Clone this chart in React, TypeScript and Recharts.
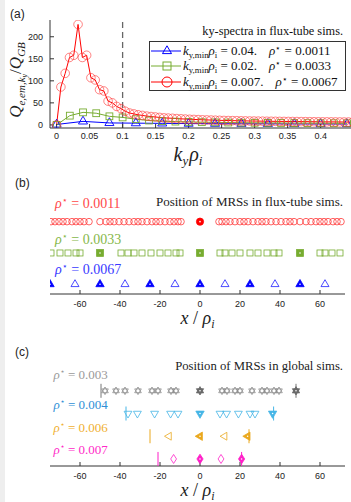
import React from "react";
import { ComposedChart, Line, ScatterChart, Scatter, XAxis, YAxis, ReferenceLine } from "recharts";

const SERIF = '"Liberation Serif", "DejaVu Serif", serif';
const SANS = '"Liberation Sans", Arial, sans-serif';
const AXIS = "#333";

// ---- (a) ky spectra ----
const kyBlue = [0, 0.04, 0.08, 0.12, 0.16, 0.2, 0.24, 0.28, 0.32, 0.36, 0.4, 0.44];
const qBlue = [1, 8, 4.5, 4, 3.5, 3, 2.8, 2.6, 2.4, 2.2, 2.1, 2];

const kyGreen = [0, 0.02, 0.04, 0.06, 0.08, 0.1, 0.12, 0.14, 0.16, 0.18, 0.2, 0.22, 0.24, 0.26, 0.28, 0.3, 0.32, 0.34, 0.36, 0.38, 0.4, 0.42, 0.44];
const qGreen = [0, 21, 28.5, 26.5, 19.5, 17, 13, 10, 8.5, 7.5, 6.8, 6.2, 5.8, 5.4, 5, 4.8, 4.6, 4.4, 4.2, 4, 3.9, 3.8, 3.7];

const kyRed = [
  0, 0.0065, 0.013, 0.0195, 0.026, 0.0325, 0.039, 0.0455, 0.052, 0.0585,
  0.065, 0.0715, 0.078, 0.0845, 0.091, 0.0975, 0.104, 0.1105, 0.117, 0.1235,
  0.13, 0.1365, 0.143, 0.1495, 0.156, 0.1625, 0.169, 0.1755, 0.182, 0.1885,
  0.195, 0.2015, 0.208, 0.2145, 0.221, 0.2275, 0.234, 0.2405, 0.247, 0.2535,
  0.26, 0.2665, 0.273, 0.2795, 0.286, 0.2925, 0.299, 0.3055, 0.312, 0.3185,
  0.325, 0.3315, 0.338, 0.3445, 0.351, 0.3575, 0.364, 0.3705, 0.377, 0.3835,
  0.39, 0.3965, 0.403, 0.4095, 0.416, 0.4225, 0.429, 0.4355, 0.442, 0.4485,
];
const qRed = [
  0, 86, 117, 153, 158, 228, 153, 158, 107, 102,
  80, 77, 54, 50, 42, 37, 31, 27, 25, 23,
  21.5, 20, 19, 18, 17, 16, 15.5, 15, 14.3, 13.8,
  13.3, 12.8, 12.4, 12, 11.6, 11.3, 11, 10.7, 10.4, 10.1,
  9.9, 9.7, 9.5, 9.3, 9.1, 8.9, 8.8, 8.6, 8.5, 8.3,
  8.2, 8.1, 8, 7.9, 7.8, 7.7, 7.6, 7.5, 7.4, 7.3,
  7.2, 7.1, 7, 6.9, 6.9, 6.8, 6.7, 6.6, 6.6, 6.5,
];
const kyTicks = [0, 0.05, 0.1, 0.15, 0.2, 0.25, 0.3, 0.35, 0.4];
const qTicks = [0, 50, 100, 150, 200];
const legendKmin = ["0.04", "0.02", "0.007"];
const legendRho = ["0.0011", "0.0033", "0.0067"];

// ---- (b) MRS positions, flux tube ----
const circleOpen = [
  -74.5, -72.5, -70.5, -68.5, -66.5, -64, -62, -60, -58, -55.5, -50, -47, -45, -43, -40.5, -38, -35.5,
  -33, -31, -29, -26.5, -24, -22, -20, -17.5, -15, -13, -11, -9.5, 9.5, 11, 13, 15, 17.5, 20, 22, 24,
  26.5, 29, 31, 33, 35.5, 38, 40.5, 43, 45, 47, 50, 53, 55.5, 58, 60, 62, 64, 66.5, 68.5, 70.5,
];
const circleFilled = [0];
const squareOpen = [-74.5, -70, -66, -62, -60, -39.5, -36, -33, -29, -24.5, -20, -16, -12, -10, 10, 12.5, 16, 20, 25, 29, 33.5, 37, 39.5, 60, 62.5, 66, 70];
const squareFilled = [-50, 0, 50];
const triOpen = [-62.5, -37.5, -12.5, 12.5, 37.5, 62.5];
const triFilled = [-75, -50, -25, 0, 25, 50];

// ---- (c) MRS positions, global ----
const starOpen = [-47.5, -42, -37.5, -31, -24, -21, -14.5, -12, 11, 13.5, 17.5, 20, 26, 31, 33.5, 37, 39.5];
const starFilled = [0, 48];
const starEdge = [-49.5, 48];
const downOpen = [-36, -31.3, -22.7, -14.7, -11, 10, 13.3, 19.2, 25, 27.5];
const downFilled = [0, 36.3];
const downEdge = [-37, 36.8];
const leftOpen = [-15.5, 12.3];
const leftFilled = [0, 23.8];
const leftEdge = [-25, 24.5];
const diaOpen = [-13.2, 10.5];
const diaFilled = [0, 20.8];
const diaEdge = [-21, 20.8];

const xTicks = [-60, -40, -20, 0, 20, 40, 60];
const xDomain: [number, number] = [-75, 72.5];

const BLUE = "#0000ff";
const GREEN = "#77ac30";
const RED = "#ff0000";
const GRAY = "#8a8a8a";
const SKY = "#45b5e6";
const ORANGE = "#eaa81e";
const MAGENTA = "#ff1fc8";

const at = (xs: number[], y: number) => xs.map((x) => ({ x, y }));
const spec = (xs: number[], ys: number[]) => xs.map((ky, i) => ({ ky, q: ys[i] }));

type MarkProps = { cx?: number; cy?: number; kind: string; color: string; filled?: boolean; r?: number; sw?: number; op?: number };

const Mark = ({ cx = 0, cy = 0, kind, color, filled = false, r = 4, sw = 0.8, op = 1 }: MarkProps) => {
  const fill = filled ? color : "none";
  const common = { fill, stroke: color, strokeWidth: sw, strokeOpacity: op };
  const dot = filled ? <circle cx={cx} cy={cy} r={0.8} fill="#fff" /> : null;
  const poly = (pts: number[][]) => pts.map(([a, b]) => `${cx + a * r},${cy + b * r}`).join(" ");
  let shape: React.ReactNode = null;
  if (kind === "circle") shape = <circle cx={cx} cy={cy} r={r} {...common} />;
  else if (kind === "square") shape = <rect x={cx - r} y={cy - r} width={2 * r} height={2 * r} {...common} />;
  else if (kind === "triUp") shape = <polygon points={poly([[0, -1], [0.87, 0.5], [-0.87, 0.5]])} {...common} />;
  else if (kind === "triDown") shape = <polygon points={poly([[0, 1], [0.87, -0.5], [-0.87, -0.5]])} {...common} />;
  else if (kind === "triLeft") shape = <polygon points={poly([[-1, 0], [0.5, -0.87], [0.5, 0.87]])} {...common} />;
  else if (kind === "diamond") shape = <polygon points={poly([[0, -1], [0.65, 0], [0, 1], [-0.65, 0]])} {...common} />;
  else if (kind === "hexagram")
    shape = (
      <g>
        <polygon points={poly([[0, -1], [0.87, 0.5], [-0.87, 0.5]])} {...common} />
        <polygon points={poly([[0, 1], [0.87, -0.5], [-0.87, -0.5]])} {...common} />
      </g>
    );
  else if (kind === "vline") return <line x1={cx} x2={cx} y1={cy - 7} y2={cy + 7} stroke={color} strokeWidth={1} />;
  return (
    <g>
      {shape}
      {dot}
    </g>
  );
};

const Rho = ({ val }: { val: string }) => (
  <>
    <tspan fontStyle="italic">ρ</tspan>
    <tspan dy={-5} fontSize="0.65em">⋆</tspan>
    <tspan dy={5}> = {val}</tspan>
  </>
);

const TextMark = (props: any) => {
  const { cx, cy, payload } = props;
  if (payload.title)
    return (
      <text x={cx} y={cy} dy="0.35em" textAnchor="end" fontFamily={SERIF} fontSize={payload.size} fill="#222">
        {payload.title}
      </text>
    );
  return (
    <text x={cx} y={cy} dy="0.35em" fontFamily={SERIF} fontSize={payload.size} fill={payload.color}>
      <Rho val={payload.val} />
    </text>
  );
};

const labelsB = [
  { x: -72.5, y: 3.585, val: "0.0011", color: "#ff4a4a", size: 14 },
  { x: -72.5, y: 2.445, val: "0.0033", color: "#86b84a", size: 14 },
  { x: -72.5, y: 1.486, val: "0.0067", color: "#3a3aff", size: 14 },
  { x: 71.5, y: 3.64, title: "Position of MRSs in flux-tube sims.", size: 13 },
];
const labelsC = [
  { x: -73.3, y: 4.707, val: "0.003", color: "#9a9a9a", size: 13 },
  { x: -73.3, y: 3.38, val: "0.004", color: "#2f8fd6", size: 13 },
  { x: -73.3, y: 2.37, val: "0.006", color: "#f0b030", size: 13 },
  { x: -73.3, y: 1.44, val: "0.007", color: "#ff2ac8", size: 13 },
  { x: 71.5, y: 5.09, title: "Position of MRSs in global sims.", size: 12.7 },
];

const XTitle = (props: any) => {
  const vb = props.viewBox || {};
  const x = vb.x + vb.width / 2 + (props.dx || 0);
  return props.k ? (
    <text x={x} y={vb.y + 33} textAnchor="middle" fontFamily={SERIF} fontSize={20} fill="#222">
      <tspan fontStyle="italic">k</tspan>
      <tspan dy={4} fontSize={13} fontStyle="italic">y</tspan>
      <tspan dy={-4} dx={1} fontStyle="italic">ρ</tspan>
      <tspan dy={4} fontSize={13} fontStyle="italic">i</tspan>
    </text>
  ) : (
    <text x={x} y={vb.y + 30} textAnchor="middle" fontFamily={SERIF} fontSize={18} fill="#222">
      <tspan fontStyle="italic">x</tspan>
      <tspan> / </tspan>
      <tspan fontStyle="italic">ρ</tspan>
      <tspan dy={4} fontSize={12} fontStyle="italic">i</tspan>
    </text>
  );
};

const QTitle = () => (
  <text x={21} y={80} transform="rotate(-90, 21, 80)" textAnchor="middle" fontFamily={SERIF} fontSize={17} fill="#222">
    <tspan fontStyle="italic">Q</tspan>
    <tspan dy={4} fontSize={11} fontStyle="italic">e,em,k</tspan>
    <tspan dy={2} fontSize={8} fontStyle="italic">y</tspan>
    <tspan dy={-6}>/</tspan>
    <tspan fontStyle="italic">Q</tspan>
    <tspan dy={4} fontSize={11} fontStyle="italic">GB</tspan>
  </text>
);

const sub: React.CSSProperties = { fontSize: "0.68em", position: "relative", top: "0.32em" };
const sup: React.CSSProperties = { fontSize: "0.68em", position: "relative", top: "-0.45em" };

const specColors = [BLUE, GREEN, RED];
const specKinds = ["triUp", "square", "circle"];
const specR = [5.2, 4, 5];

const SpecLegend = () => (
  <div style={{ position: "absolute", left: 149, top: 23, width: 197, fontFamily: SERIF, color: "#111" }}>
    <div style={{ textAlign: "right", fontSize: 12.3, height: 18, lineHeight: "16px", paddingRight: 3 }}>ky-spectra in flux-tube sims.</div>
    <div style={{ border: "1px solid #333", background: "#fff", height: 47, paddingTop: 1, boxSizing: "content-box" }}>
      {legendKmin.map((k, i) => (
        <div key={k} style={{ display: "flex", alignItems: "center", height: 15.5, fontSize: 13, whiteSpace: "nowrap" }}>
          <svg width={32} height={14} style={{ flex: "none" }}>
            <line x1={1} x2={31} y1={7} y2={7} stroke={specColors[i]} strokeWidth={1} />
            <Mark cx={17} cy={7} kind={specKinds[i]} color={specColors[i]} r={specR[i]} sw={1} />
          </svg>
          <span style={{ marginLeft: 1 }}>
            <i>k</i>
            <span style={sub}>y,min</span>
            <i>ρ</i>
            <span style={sub}>i</span> = {k}.
          </span>
          <span style={{ marginLeft: 12 }}>
            <i>ρ</i>
            <span style={sup}>⋆</span> = {legendRho[i]}
          </span>
        </div>
      ))}
    </div>
  </div>
);

const tickStyle = { fontSize: 9, fontFamily: SANS, fill: "#222" };

const PanelLetter = ({ text, left, top }: { text: string; left: number; top: number }) => (
  <div style={{ position: "absolute", left, top, fontFamily: SANS, fontSize: 12, color: "#222", lineHeight: "14px" }}>{text}</div>
);

const App = () => {
  const redPts = spec(kyRed, qRed);
  const greenPts = spec(kyGreen, qGreen);
  const bluePts = spec(kyBlue, qBlue);
  const yDomA: [number, number] = [-7, 238];
  const xDomA: [number, number] = [-0.01, 0.4475];
  const yDomB: [number, number] = [0.69, 4.17];
  const yDomC: [number, number] = [0.69, 5.4];

  const scatterRow = (key: string, xs: number[], y: number, kind: string, color: string, filled: boolean, r: number) => (
    <Scatter
      key={key}
      data={at(xs, y)}
      isAnimationActive={false}
      shape={(p: any) => <Mark cx={p.cx} cy={p.cy} kind={kind} color={color} filled={filled} r={r} sw={0.8} />}
    />
  );

  const boxAxes = (yDom: [number, number]) => [
    <XAxis key="xb" type="number" dataKey="x" domain={xDomain} ticks={xTicks} allowDataOverflow tickSize={-4} tickMargin={11} height={36} tick={tickStyle} axisLine={{ stroke: AXIS }} tickLine={{ stroke: AXIS }} label={<XTitle />} />,
    <XAxis key="xt" xAxisId="top" orientation="top" type="number" dataKey="x" domain={xDomain} ticks={xTicks} allowDataOverflow tickSize={-4} height={0} tick={false} axisLine={{ stroke: AXIS }} tickLine={{ stroke: AXIS }} />,
    <YAxis key="yl" type="number" dataKey="y" domain={yDom} allowDataOverflow width={0} tick={false} tickLine={false} axisLine={{ stroke: AXIS }} />,
    <YAxis key="yr" yAxisId="r" orientation="right" type="number" domain={yDom} allowDataOverflow width={0} tick={false} tickLine={false} axisLine={{ stroke: AXIS }} />,
  ];

  return (
    <div style={{ position: "fixed", left: 0, top: 0, width: 351, height: 502, overflow: "hidden", background: "#fff" }}>
      <div style={{ position: "absolute", left: 0, top: 0, width: 5, height: 502, background: "#eeeeee" }} />
      <PanelLetter text="(a)" left={10} top={7} />
      <PanelLetter text="(b)" left={15} top={176} />
      <PanelLetter text="(c)" left={15} top={345} />

      <div style={{ position: "absolute", left: 0, top: 0 }}>
        <ComposedChart width={352} height={170} margin={{ top: 20, right: 0, left: 0, bottom: 0 }}>
          <XAxis type="number" dataKey="ky" domain={xDomA} ticks={kyTicks} allowDataOverflow tickSize={-4} tickMargin={9} height={42} tick={tickStyle} axisLine={{ stroke: AXIS }} tickLine={{ stroke: AXIS }} label={<XTitle k dx={-13} />} />
          <XAxis xAxisId="top" orientation="top" type="number" dataKey="ky" domain={xDomA} ticks={kyTicks} allowDataOverflow tickSize={-4} height={0} tick={false} axisLine={{ stroke: AXIS }} tickLine={{ stroke: AXIS }} />
          <YAxis type="number" domain={yDomA} ticks={qTicks} allowDataOverflow tickSize={-4} tickMargin={11} width={50} tick={tickStyle} axisLine={{ stroke: AXIS }} tickLine={{ stroke: AXIS }} label={<QTitle />} />
          <YAxis yAxisId="r" orientation="right" type="number" domain={yDomA} ticks={qTicks} allowDataOverflow tickSize={-4} width={0} tick={false} axisLine={{ stroke: AXIS }} tickLine={{ stroke: AXIS }} />
          <ReferenceLine x={0.1} stroke="#666" strokeWidth={1.3} strokeDasharray="6 4" />
          <Line data={bluePts} dataKey="q" stroke={BLUE} strokeWidth={1} isAnimationActive={false}
            dot={(p: any) => <Mark key={`b${p.index}`} cx={p.cx} cy={p.cy} kind="triUp" color={BLUE} r={5.2} sw={0.9} />} />
          <Line data={greenPts} dataKey="q" stroke={GREEN} strokeWidth={1} isAnimationActive={false}
            dot={(p: any) => <Mark key={`g${p.index}`} cx={p.cx} cy={p.cy} kind="square" color={GREEN} r={3.4} sw={0.9} />} />
          <Line data={redPts} dataKey="q" stroke={RED} strokeWidth={1} isAnimationActive={false}
            dot={(p: any) => <Mark key={`r${p.index}`} cx={p.cx} cy={p.cy} kind="circle" color="#ff3030" r={4.3} sw={0.8} op={0.75} />} />
        </ComposedChart>
        <SpecLegend />
      </div>

      <div style={{ position: "absolute", left: 0, top: 170 }}>
        <ScatterChart width={351} height={160} margin={{ top: 15, right: 6, left: 50, bottom: 0 }}>
          {boxAxes(yDomB)}
          {scatterRow("co", circleOpen, 3, "circle", "#ff3a3a", false, 3.3)}
          {scatterRow("cf", circleFilled, 3, "circle", RED, true, 3.6)}
          {scatterRow("so", squareOpen, 2, "square", GREEN, false, 3)}
          {scatterRow("sf", squareFilled, 2, "square", GREEN, true, 3.4)}
          {scatterRow("to", triOpen, 1, "triUp", "#2020ff", false, 4.6)}
          {scatterRow("tf", triFilled, 1, "triUp", BLUE, true, 4.8)}
          <Scatter data={labelsB} isAnimationActive={false} shape={(p: any) => <TextMark {...p} />} />
        </ScatterChart>
      </div>

      <div style={{ position: "absolute", left: 0, top: 330 }}>
        <ScatterChart width={351} height={172} margin={{ top: 29, right: 6, left: 50, bottom: 0 }}>
          {boxAxes(yDomC)}
          {scatterRow("ge", starEdge, 4, "vline", "#777", false, 4)}
          {scatterRow("go", starOpen, 4, "hexagram", GRAY, false, 3.8)}
          {scatterRow("gf", starFilled, 4, "hexagram", "#6a6a6a", true, 4.2)}
          {scatterRow("be", downEdge, 3, "vline", SKY, false, 4)}
          {scatterRow("bo", downOpen, 3, "triDown", SKY, false, 4.5)}
          {scatterRow("bf", downFilled, 3, "triDown", SKY, true, 4.8)}
          {scatterRow("oe", leftEdge, 2, "vline", ORANGE, false, 4)}
          {scatterRow("oo", leftOpen, 2, "triLeft", ORANGE, false, 4.5)}
          {scatterRow("of", leftFilled, 2, "triLeft", ORANGE, true, 4.8)}
          {scatterRow("me", diaEdge, 1, "vline", MAGENTA, false, 4)}
          {scatterRow("mo", diaOpen, 1, "diamond", MAGENTA, false, 4.5)}
          {scatterRow("mf", diaFilled, 1, "diamond", MAGENTA, true, 4.8)}
          <Scatter data={labelsC} isAnimationActive={false} shape={(p: any) => <TextMark {...p} />} />
        </ScatterChart>
      </div>
    </div>
  );
};

export default App;
